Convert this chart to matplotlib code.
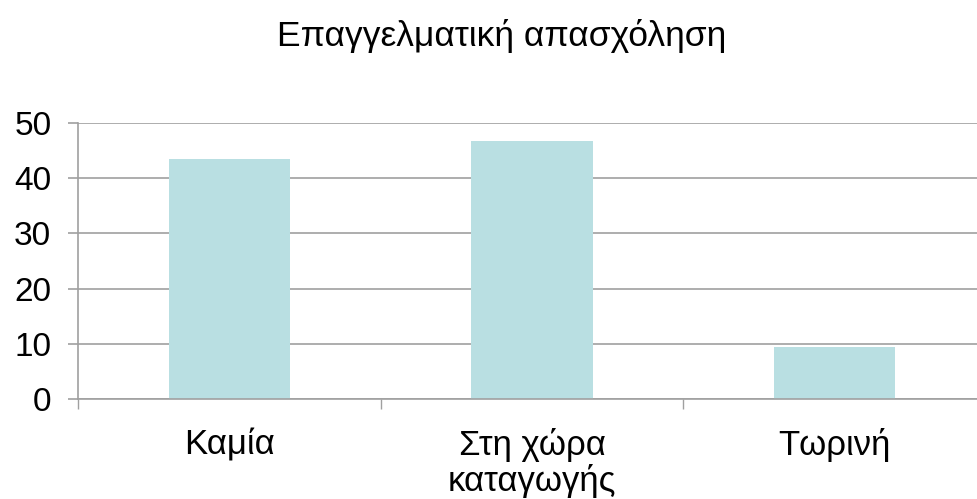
import matplotlib.pyplot as plt
import numpy as np

# Dados
categorias = ['Καμία', 'Στη χώρα\nκαταγωγής', 'Τωρινή']
valores = [43.4, 46.7, 9.5]
titulo = 'Επαγγελματική απασχόληση'
y_ticks = [0, 10, 20, 30, 40, 50]

plt.rcParams['font.family'] = ['Liberation Sans', 'DejaVu Sans']

fig = plt.figure(figsize=(9.77, 4.99), dpi=100)
ax = fig.add_axes([0.0798, 0.1998, 0.9294, 0.5543])

x = np.arange(len(categorias))
ax.bar(x, valores, width=0.4, color='#B9DFE2', zorder=2)

ax.set_xlim(-0.5, len(categorias) - 0.5)
ax.set_ylim(0, 50)
ax.set_yticks(y_ticks)
ax.yaxis.grid(True, color='#A0A0A0', linewidth=1.2, zorder=0)

ax.set_xticks(x)
ax.set_xticklabels(categorias, fontsize=25, linespacing=1.06)
ax.set_xticks(np.arange(-0.5, len(categorias), 1.0), minor=True)
ax.tick_params(axis='x', which='major', length=0, pad=21)
ax.tick_params(axis='x', which='minor', length=7.2, width=1.0, color='#A0A0A0')
ax.tick_params(axis='y', length=7.2, width=1.2, color='#A0A0A0', labelsize=24, pad=12)

for lado in ['top', 'right']:
    ax.spines[lado].set_visible(False)
ax.spines['left'].set_color('#A0A0A0')
ax.spines['bottom'].set_color('#A0A0A0')
ax.spines['left'].set_linewidth(1.2)
ax.spines['bottom'].set_linewidth(1.2)
ax.spines['left'].set_bounds(0, 50)

fig.text(502 / 977, 1 - 46 / 499, titulo, fontsize=25.5, ha='center', va='baseline')

fig.savefig('out.png', dpi=100)
